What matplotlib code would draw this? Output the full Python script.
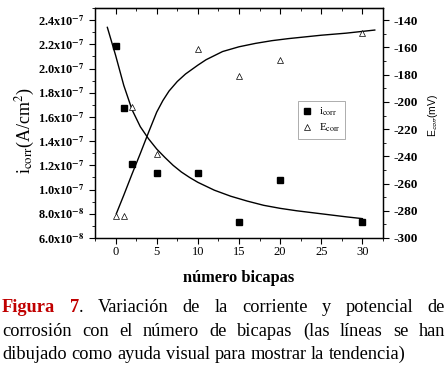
import matplotlib
matplotlib.use("Agg")
import matplotlib.pyplot as plt
from matplotlib.ticker import MultipleLocator
from matplotlib.lines import Line2D

plt.rcParams["font.family"] = ["Liberation Serif", "DejaVu Serif"]
plt.rcParams["mathtext.fontset"] = "stix"

# datos
bicapas = [0, 1, 2, 5, 10, 15, 20, 30]
i_corr = [2.19e-7, 1.67e-7, 1.215e-7, 1.135e-7, 1.135e-7, 0.73e-7, 1.08e-7, 0.73e-7]
e_corr = [-284, -283.5, -204, -238.5, -161, -181, -169.5, -149.5]

# líneas de tendencia (trazadas a mano en el original)
i_linea_x = [-1, 0, 1, 2, 3, 4, 5, 6, 7, 8, 9, 10, 12, 14, 16, 18, 20, 22, 25, 28, 30]
i_linea_y = [2.34e-7, 2.11e-7, 1.86e-7, 1.66e-7, 1.52e-7, 1.42e-7, 1.335e-7, 1.265e-7,
             1.20e-7, 1.145e-7, 1.10e-7, 1.06e-7, 0.995e-7, 0.945e-7, 0.905e-7,
             0.87e-7, 0.845e-7, 0.825e-7, 0.80e-7, 0.775e-7, 0.76e-7]
e_linea_x = [0.1, 1, 2, 3, 4, 5, 5.75, 6.5, 7.5, 8.5, 10, 11, 13, 15, 17, 19, 21, 25, 28, 31.5]
e_linea_y = [-282, -268.5, -253, -238, -222.5, -207.5, -199, -192, -185, -179.5, -173,
             -169, -163, -159.5, -157, -155, -153.5, -151, -149.5, -147.2]

xticks = [0, 5, 10, 15, 20, 25, 30]
yticks_izq = [6e-8, 8e-8, 1.0e-7, 1.2e-7, 1.4e-7, 1.6e-7, 1.8e-7, 2.0e-7, 2.2e-7, 2.4e-7]
yticklabels_izq = [r"6.0x10$^{\mathbf{-8}}$", r"8.0x10$^{\mathbf{-8}}$",
                   r"1.0x10$^{\mathbf{-7}}$", r"1.2x10$^{\mathbf{-7}}$",
                   r"1.4x10$^{\mathbf{-7}}$", r"1.6x10$^{\mathbf{-7}}$",
                   r"1.8x10$^{\mathbf{-7}}$", r"2.0x10$^{\mathbf{-7}}$",
                   r"2.2x10$^{\mathbf{-7}}$", r"2.4x10$^{\mathbf{-7}}$"]
yticks_der = [-300, -280, -260, -240, -220, -200, -180, -160, -140]

W, H = 446, 368
fig = plt.figure(figsize=(W / 100, H / 100), dpi=100)
ax = fig.add_axes([95 / W, 1 - 238 / H, 288 / W, 230 / H])
ax2 = ax.twinx()

ax.plot(i_linea_x, i_linea_y, color="black", lw=1.0)
ax.plot(bicapas, i_corr, "s", color="black", ms=4.2)
ax2.plot(e_linea_x, e_linea_y, color="black", lw=1.0)
ax2.plot(bicapas, e_corr, "^", mfc="white", mec="black", mew=0.5, ms=5)

ax.set_xlim(-2.5, 32.5)
ax.set_ylim(6e-8, 2.5e-7)
ax2.set_ylim(-300, -131)

ax.set_xticks(xticks)
ax.set_xticklabels([str(v) for v in xticks], fontsize=9)
ax.xaxis.set_minor_locator(MultipleLocator(2.5))
ax.set_yticks(yticks_izq)
ax.set_yticklabels(yticklabels_izq, fontsize=8.8, fontweight="bold")
ax.yaxis.set_minor_locator(MultipleLocator(1e-8))
ax2.set_yticks(yticks_der)
ax2.set_yticklabels([str(v) for v in yticks_der], fontsize=9.5, fontweight="bold")
ax2.yaxis.set_minor_locator(MultipleLocator(10))

for a in (ax, ax2):
    a.tick_params(which="major", direction="out", length=4, width=0.8, pad=3.5)
    a.tick_params(which="minor", direction="out", length=2, width=0.6)
    for s in a.spines.values():
        s.set_linewidth(0.9)
ax.tick_params(axis="x", pad=2)

top = ax.secondary_xaxis("top")
top.set_xticks(xticks)
top.xaxis.set_minor_locator(MultipleLocator(2.5))
top.tick_params(which="major", direction="in", length=4, width=0.8, labeltop=False)
top.tick_params(which="minor", direction="in", length=2, width=0.6)

fig.text(25 / W, 1 - 131 / H, r"i$_{\rm corr}$(A/cm$^2$)", rotation=90,
         fontsize=13, ha="center", va="center")
fig.text(433 / W, 1 - 115 / H, r"E$_{\mathsf{corr}}$(mV)", rotation=90,
         fontsize=7.5, ha="center", va="center", family="Liberation Sans")
fig.text(239 / W, 1 - 278 / H, "número bicapas", fontsize=11.8, fontweight="bold",
         ha="center", va="center")

handles = [Line2D([], [], ls="", marker="s", color="black", ms=3.8),
           Line2D([], [], ls="", marker="^", mfc="white", mec="black", mew=0.5, ms=4.5)]
leg = ax2.legend(handles, [r"i$_{\rm corr}$", r"E$_{\rm corr}$"],
                 loc="upper left", bbox_to_anchor=(298 / W, 1 - 101 / H),
                 bbox_transform=fig.transFigure, borderaxespad=0, fontsize=8,
                 fancybox=False, handlelength=0.8, handletextpad=0.7,
                 labelspacing=0.35, borderpad=0.4)
leg.get_frame().set_edgecolor("#888888")
leg.get_frame().set_linewidth(0.6)

# pie de figura con texto justificado
renderer = fig.canvas.get_renderer()
cap_fs = 13.2
lineas = [
    [[("Figura", "#c00000", "bold")], [("7", "#c00000", "bold"), (".", "black", "normal")],
     "Variación", "de", "la", "corriente", "y", "potencial", "de"],
    "corrosión con el número de bicapas (las líneas se han".split(),
    "dibujado como ayuda visual para mostrar la tendencia)".split(),
]
bases = [312, 336, 359]
x0, x1 = 2, 445


def ancho(txt, peso="normal"):
    t = fig.text(0, 0, txt, fontweight=peso, fontsize=cap_fs)
    w = t.get_window_extent(renderer).width
    t.remove()
    return w


def poner(x, y, piezas):
    for txt, col, peso in piezas:
        fig.text(x / W, 1 - y / H, txt, color=col, fontweight=peso,
                 fontsize=cap_fs, va="baseline", ha="left")
        x += ancho(txt, peso)
    return x


espacio = ancho("a a") - ancho("aa")

for n, (linea, yb) in enumerate(zip(lineas, bases)):
    palabras = [p if isinstance(p, list) else [(p, "black", "normal")] for p in linea]
    anchos = [sum(ancho(txt, peso) for txt, col, peso in piezas) for piezas in palabras]
    if n < len(lineas) - 1:
        hueco = (x1 - x0 - sum(anchos)) / (len(palabras) - 1)
    else:
        hueco = espacio
    x = x0
    for piezas, w in zip(palabras, anchos):
        poner(x, yb, piezas)
        x += w + hueco

fig.savefig("out.png", dpi=100)
